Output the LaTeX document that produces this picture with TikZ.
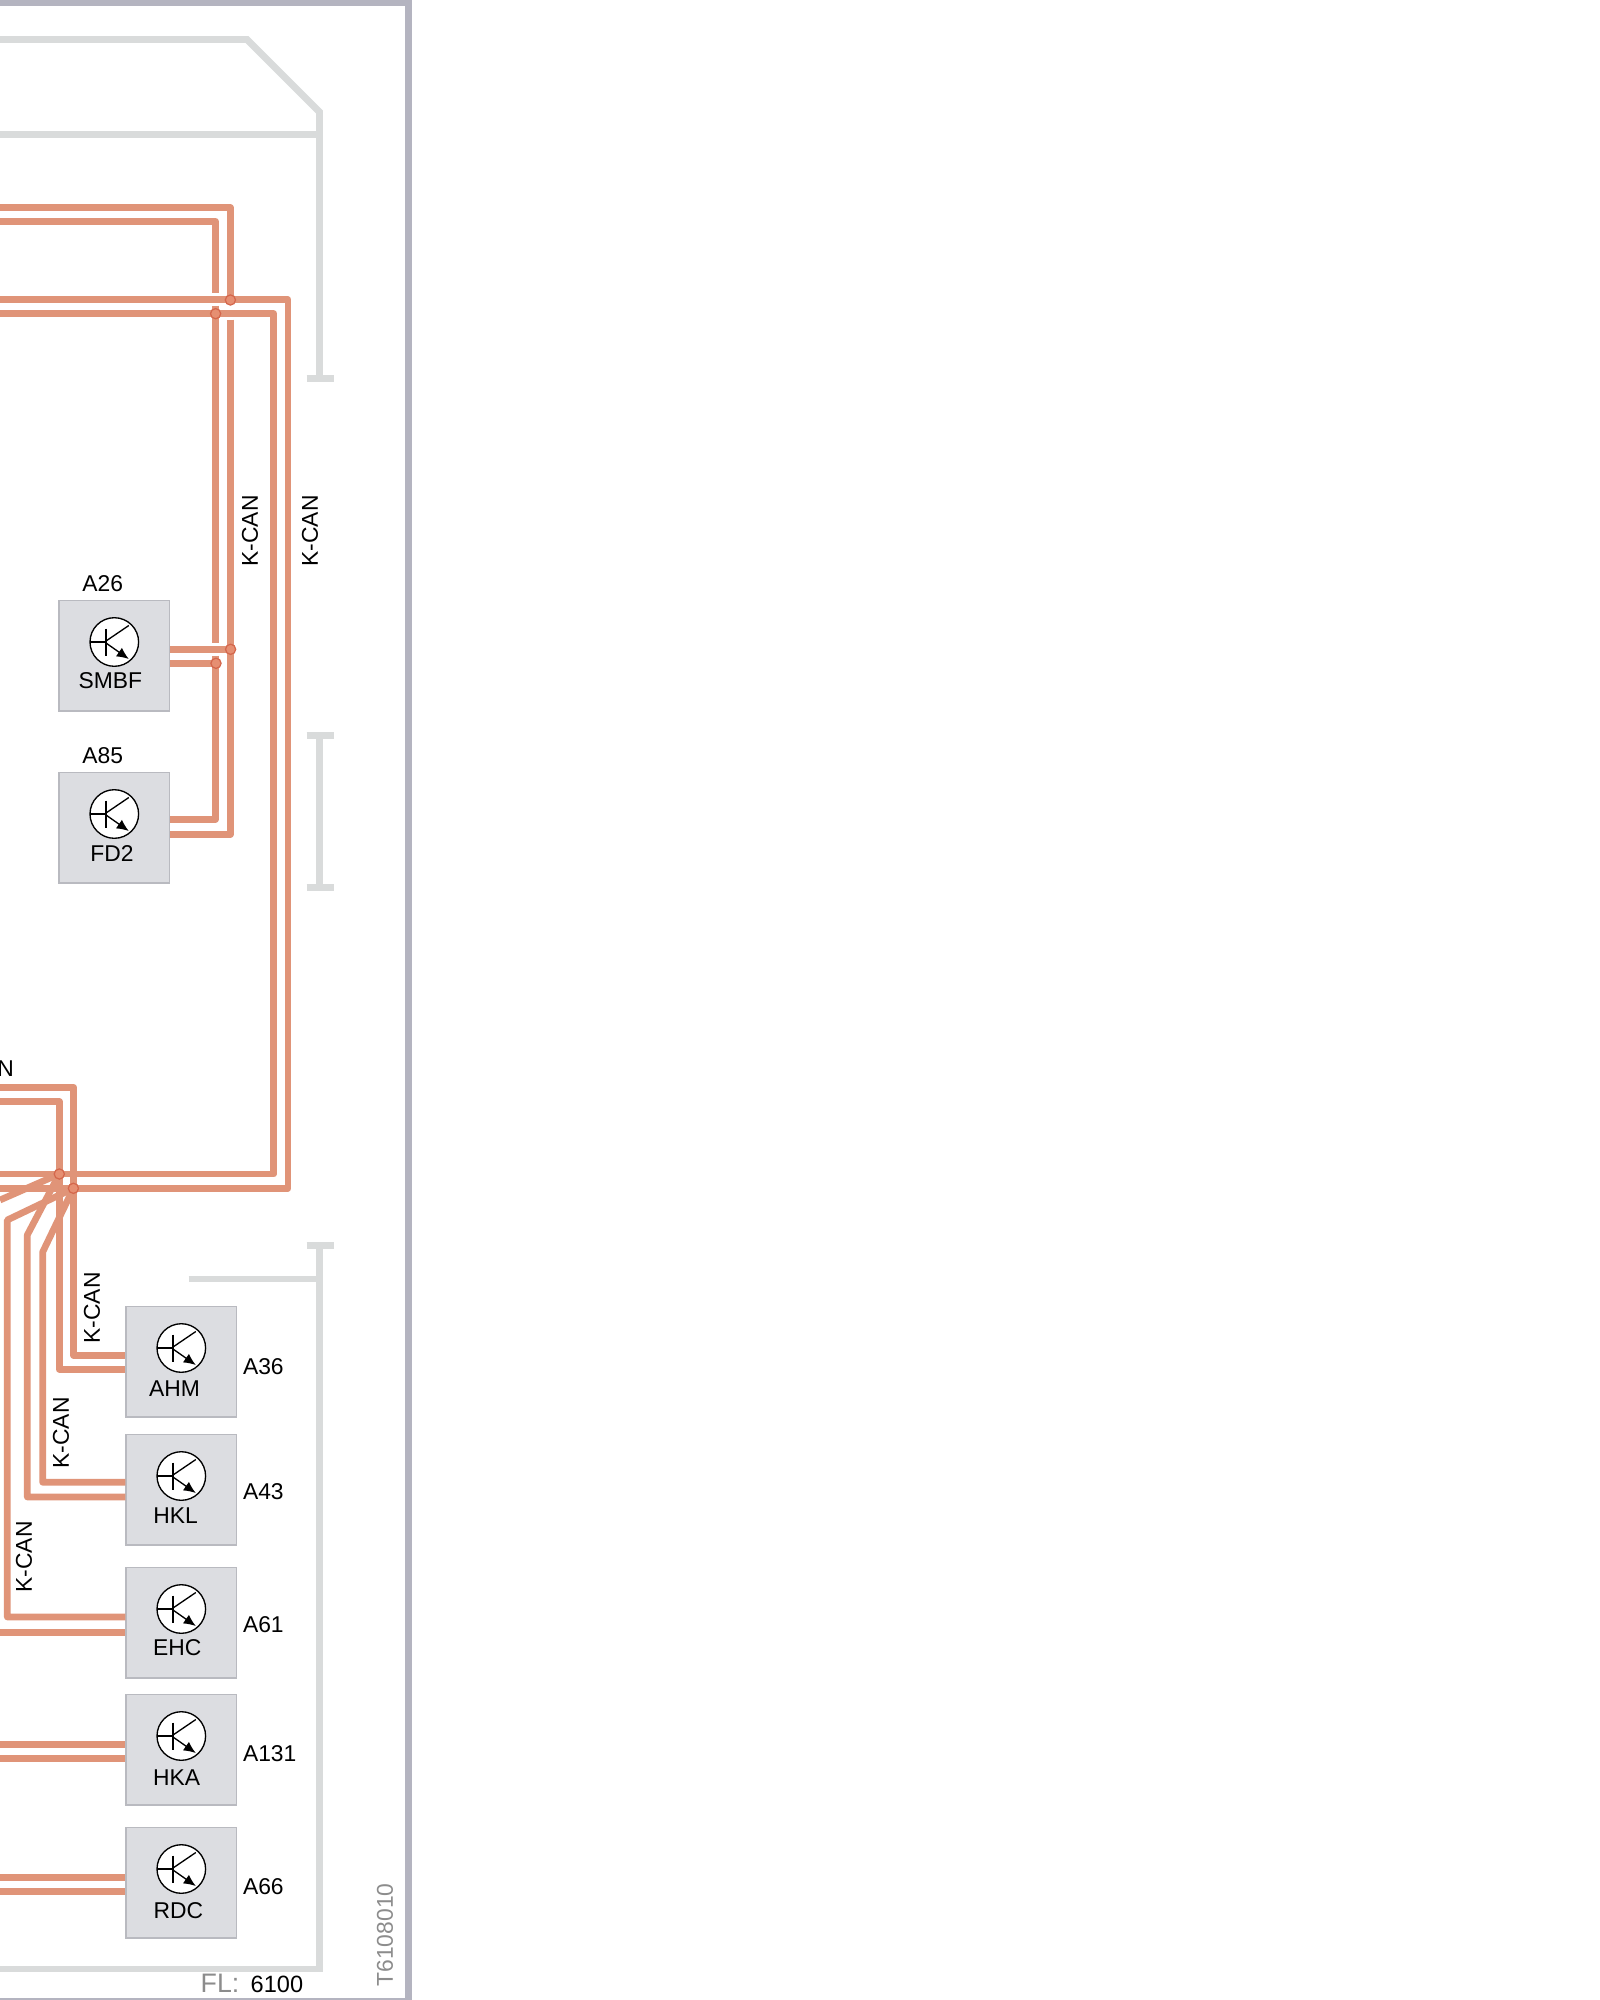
\documentclass[tikz,border=0pt]{standalone}
\usepackage{fontspec}
\setmainfont{Liberation Sans}
\usetikzlibrary{arrows.meta}
\definecolor{wire}{HTML}{E09478}
\definecolor{frameline}{HTML}{D9DBDB}
\definecolor{borderline}{HTML}{B4B4C0}
\definecolor{boxfill}{HTML}{DCDDE1}
\definecolor{boxline}{HTML}{B9BAC0}
\definecolor{dotfill}{HTML}{E68F72}
\definecolor{dotline}{HTML}{D4674C}
\definecolor{greytext}{HTML}{8C8C8C}
\tikzset{
  wirepath/.style={draw=wire,line width=1.9pt,line join=round},
  framepath/.style={draw=frameline,line width=1.95pt},
  ecu/.style={draw=boxline,fill=boxfill,line width=0.4pt,minimum width=31.4pt,minimum height=31.4pt,inner sep=0pt,anchor=north west},
  lab/.style={inner sep=0pt,font=\fontsize{6.5}{8}\selectfont},
  greylab/.style={lab,text=greytext},
  dot/.style={circle,draw=dotline,fill=dotfill,line width=0.35pt,minimum size=2.9pt,inner sep=0pt},
  tr/.style={black,line width=0.38pt}
}
\newcommand{\transistor}[1]{%
  \begin{scope}[shift={(#1.north west)},shift={(56,42)}]
    \draw[tr,fill=white] (0,0) circle[radius=24.3];
    \draw[tr] (-24.3,0) -- (-8.3,0);
    \draw[tr] (-8.3,-13.5) -- (-8.3,13.5);
    \draw[tr] (-8.3,-1) -- (14.5,-16.5);
    \draw[tr,-{Latex[length=3.4pt,width=3pt]}] (-8.3,1) -- (14.5,17);
  \end{scope}}
\begin{document}
\begin{tikzpicture}[x=0.01cm,y=-0.01cm]
\useasboundingbox (0,0) rectangle (1600,2000);
\fill[white] (0,0) rectangle (1600,2000);

% outer border
\coordinate (bTL) at (0,3);
\coordinate (bTR) at (408.5,3);
\coordinate (bBR) at (408.5,2001);
\coordinate (bBL) at (0,2001);
\draw[draw=borderline,line width=1.75pt] (bTL) -- (bTR) -- (bBR) -- (bBL);

% grey frame
\coordinate (f1) at (0,39.5);
\coordinate (f2) at (247,39.5);
\coordinate (f3) at (319.5,112);
\coordinate (f4) at (319.5,378);
\coordinate (f5) at (0,134.5);
\coordinate (f6) at (319.5,134.5);
\draw[framepath] (f1) -- (f2) -- (f3) -- (f4);
\draw[framepath] (f5) -- (f6);
\coordinate (c1a) at (306.5,378.5); \coordinate (c1b) at (333.5,378.5);
\draw[framepath] (c1a) -- (c1b);
\coordinate (m1) at (319.5,735.5); \coordinate (m2) at (319.5,887.5);
\draw[framepath] (m1) -- (m2);
\coordinate (c2a) at (306.5,735.5); \coordinate (c2b) at (333.5,735.5);
\coordinate (c3a) at (306.5,887.5); \coordinate (c3b) at (333.5,887.5);
\draw[framepath] (c2a) -- (c2b);
\draw[framepath] (c3a) -- (c3b);
\coordinate (l1) at (319.5,1245.5); \coordinate (l2) at (319.5,1969); \coordinate (l3) at (0,1969);
\draw[framepath] (l1) -- (l2) -- (l3);
\coordinate (c4a) at (306.5,1245.5); \coordinate (c4b) at (333.5,1245.5);
\draw[framepath] (c4a) -- (c4b);
\coordinate (b1) at (188.5,1279); \coordinate (b2) at (319.5,1279);
\draw[framepath] (b1) -- (b2);

% control units
\node[ecu] (smbf) at (58.3,600) {};
\node[ecu] (fd2)  at (58.3,772) {};
\node[ecu] (ahm)  at (125.3,1306) {};
\node[ecu] (hkl)  at (125.3,1434) {};
\node[ecu] (ehc)  at (125.3,1567) {};
\node[ecu] (hka)  at (125.3,1694) {};
\node[ecu] (rdc)  at (125.3,1827) {};
\foreach \b in {smbf,fd2,ahm,hkl,ehc,hka,rdc}{\transistor{\b}}

% junctions
\coordinate (j1) at (230.4,300);
\coordinate (j2) at (215.6,313.7);
\coordinate (j3) at (230.6,649.3);
\coordinate (j4) at (216,663.3);
\coordinate (j5) at (59.3,1174);
\coordinate (j6) at (73.4,1188.3);

% upper wires
\coordinate (w1) at (0,207.7);
\coordinate (w2) at (230.4,207.7);
\coordinate (w3) at (230.4,319.5);
\coordinate (w4) at (230.4,834.3);
\coordinate (w5) at (0,221.3);
\coordinate (w6) at (215.4,221.3);
\coordinate (w7) at (215.4,293.3);
\coordinate (w8) at (215.4,305.7);
\coordinate (w9) at (215.4,643);
\coordinate (w10) at (215.4,655.7);
\coordinate (w11) at (215.4,819.3);
\draw[wirepath] (w1) -- (w2) -- (j1);
\draw[wirepath] (w3) -- (w4) -- (fd2.east |- w4);
\draw[wirepath] (w5) -- (w6) -- (w7);
\draw[wirepath] (w8) -- (w9);
\draw[wirepath] (w10) -- (w11) -- (fd2.east |- w11);
\draw[wirepath] (smbf.east |- j3) -- (j3);
\draw[wirepath] (smbf.east |- j4) -- (j4);

% long bus loops
\coordinate (h1) at (0,299.6);
\coordinate (h2) at (288,299.6);
\coordinate (h3) at (288,1188.3);
\coordinate (h4) at (0,1188.3);
\coordinate (i1) at (0,313.6);
\coordinate (i2) at (273.7,313.6);
\coordinate (i3) at (273.7,1174);
\coordinate (i4) at (0,1174);
\draw[wirepath] (h1) -- (h2) -- (h3) -- (h4);
\draw[wirepath] (i1) -- (i2) -- (i3) -- (i4);

% AHM
\coordinate (k1) at (0,1087.3);
\coordinate (k2) at (73.7,1087.3);
\coordinate (k3) at (73.7,1355.3);
\coordinate (k4) at (0,1101.7);
\coordinate (k5) at (59.3,1101.7);
\coordinate (k6) at (59.3,1369.3);
\draw[wirepath] (k1) -- (k2) -- (k3) -- (ahm.west |- k3);
\draw[wirepath] (k4) -- (k5) -- (k6) -- (ahm.west |- k6);

% fan-out
\coordinate (d0) at (0,1200);
\coordinate (d1) at (27.3,1235);
\coordinate (d2) at (27.3,1497);
\coordinate (d3) at (42.7,1252);
\coordinate (d4) at (42.7,1482.3);
\coordinate (d5) at (7.3,1220);
\coordinate (d6) at (7.3,1617);
\draw[wirepath] (j5) -- (d0);
\draw[wirepath] (j5) -- (d1) -- (d2) -- (hkl.west |- d2);
\draw[wirepath] (j6) -- (d3) -- (d4) -- (hkl.west |- d4);
\draw[wirepath] (j6) -- (d5) -- (d6) -- (ehc.west |- d6);

% straight feeds
\coordinate (e1) at (0,1632.3);
\coordinate (e2) at (0,1744.3);
\coordinate (e3) at (0,1758.3);
\coordinate (e4) at (0,1877.3);
\coordinate (e5) at (0,1891.3);
\draw[wirepath] (e1) -- (ehc.west |- e1);
\draw[wirepath] (e2) -- (hka.west |- e2);
\draw[wirepath] (e3) -- (hka.west |- e3);
\draw[wirepath] (e4) -- (rdc.west |- e4);
\draw[wirepath] (e5) -- (rdc.west |- e5);

% junction dots
\foreach \j in {j1,j2,j3,j4,j5,j6}{\node[dot] (dot\j) at (\j) {};}

% labels
\node[lab] (tsmbf) at (110.3,681) {SMBF};
\node[lab] (tfd2)  at (112,853.5) {FD2};
\node[lab] (tahm)  at (174.5,1389) {AHM};
\node[lab] (thkl)  at (175.7,1516) {HKL};
\node[lab] (tehc)  at (177.3,1648) {EHC};
\node[lab] (thka)  at (176.7,1777.5) {HKA};
\node[lab] (trdc)  at (178.3,1910.5) {RDC};
\node[lab] (a26) at (102.7,584) {A26};
\node[lab] (a85) at (102.7,756) {A85};
\node[lab,anchor=west] (a36)  at (242.3,1367) {A36};
\node[lab,anchor=west] (a43)  at (242.3,1491.7) {A43};
\node[lab,anchor=west] (a61)  at (242.3,1625) {A61};
\node[lab,anchor=west] (a131) at (242.3,1753.7) {A131};
\node[lab,anchor=west] (a66)  at (242.3,1886.7) {A66};
\node[lab,rotate=90] (kc1) at (250,531) {K-CAN};
\node[lab,rotate=90] (kc2) at (310,531) {K-CAN};
\node[lab,rotate=90] (kc3) at (92,1308) {K-CAN};
\node[lab,rotate=90] (kc4) at (61,1433) {K-CAN};
\node[lab,rotate=90] (kc5) at (24,1557) {K-CAN};
\node[lab,anchor=east] (kc6) at (14.5,1069) {N};
\node[greylab,anchor=west,font=\fontsize{7.6}{9}\selectfont] (fl) at (200,1983) {FL:};
\node[lab,anchor=west,font=\fontsize{6.7}{8}\selectfont] (fln) at (250,1984.5) {6100};
\node[greylab,rotate=90] (tid) at (385,1935) {T6108010};
\end{tikzpicture}
\end{document}
